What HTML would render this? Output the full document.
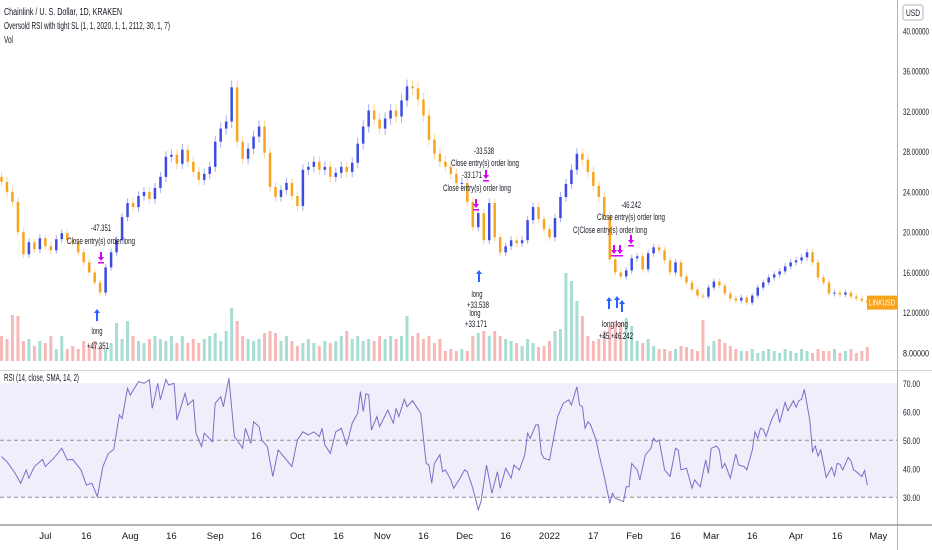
<!DOCTYPE html>
<html><head><meta charset="utf-8"><style>
html,body{margin:0;padding:0;background:#fff;}
svg{display:block;font-family:"Liberation Sans",sans-serif;}
</style></head><body>
<svg id="chart" width="932" height="550" viewBox="0 0 932 550">
  <rect x="0" y="0" width="932" height="550" fill="#ffffff"/>
  <g id="rsiBand"></g>
  <g id="vol"></g>
  <g id="candles"></g>
  <g id="rsiLine"></g>
  <g id="axes"></g>
  <g font-size="10" fill="#131722">
    <text x="4" y="15" textLength="118" lengthAdjust="spacingAndGlyphs">Chainlink / U. S. Dollar, 1D, KRAKEN</text>
    <text x="4" y="29" textLength="166" lengthAdjust="spacingAndGlyphs">Oversold RSI with tight SL (1, 1, 2020, 1, 1, 2112, 30, 1, 7)</text>
    <text x="4" y="43" textLength="9" lengthAdjust="spacingAndGlyphs">Vol</text>
    <text x="4" y="381" textLength="75" lengthAdjust="spacingAndGlyphs">RSI (14, close, SMA, 14, 2)</text>
  </g>
  <g>
    <rect x="903" y="5" width="20" height="15" rx="2" fill="#fff" stroke="#b2b5be"/>
    <text x="913" y="16" font-size="9" fill="#131722" text-anchor="middle" textLength="14" lengthAdjust="spacingAndGlyphs">USD</text>
  </g>
  <g id="annot" font-size="9" fill="#131722"></g>
</svg>
<script>
// ---- data ----
const closes = [25.0,24.0,23.0,20.0,17.8,19.0,18.3,19.4,18.6,18.2,19.3,19.9,19.2,19.0,18.0,17.0,16.0,15.0,14.0,16.5,
18.0,19.2,21.5,22.9,22.5,23.6,24.0,23.3,24.4,25.5,27.5,27.7,26.8,28.2,27.0,26.0,25.2,25.8,26.5,29.0,
30.3,31.0,34.4,29.0,27.3,28.3,29.5,30.5,27.9,24.5,23.5,24.2,24.9,23.6,22.6,26.2,26.5,27.0,26.2,26.5,
25.5,25.9,26.5,26.0,26.9,28.8,30.5,32.1,31.2,30.3,31.3,32.1,31.5,33.1,34.5,34.3,33.2,31.6,29.2,27.8,
27.0,26.5,25.8,24.9,24.9,23.0,20.5,21.9,19.2,22.9,19.5,18.0,18.6,19.2,18.9,19.2,21.2,22.5,21.3,20.3,
19.5,21.4,23.5,24.8,26.2,27.8,27.2,26.0,24.6,23.5,21.6,17.3,16.0,15.6,16.2,17.4,17.6,16.3,17.9,18.5,
18.2,17.2,16.0,17.0,15.6,15.0,14.3,13.7,13.6,14.5,15.1,14.7,13.9,13.4,13.2,13.5,13.0,13.7,14.5,15.0,
15.5,15.8,16.1,16.6,17.0,17.2,17.5,18.0,17.0,15.5,15.0,13.9,14.0,13.8,14.0,13.6,13.4,13.2,13.0];
const firstOpen = 25.5;
const volumes = [25,22,46,45,20,22,15,20,18,25,12,25,12,15,12,20,15,20,15,12,18,38,22,40,25,20,18,22,25,22,20,
25,18,25,18,22,18,22,25,28,20,30,53,40,25,22,20,22,28,30,28,20,25,20,15,18,22,18,15,20,18,20,25,30,22,25,
20,22,20,25,22,25,22,25,45,25,28,22,25,18,22,10,12,10,12,10,25,28,30,25,30,25,22,20,18,15,22,18,14,15,20,
30,32,88,80,60,45,25,20,22,30,35,40,38,43,35,20,18,22,15,12,12,10,12,15,14,12,10,41,15,20,22,18,15,12,10,
10,12,8,10,12,10,8,12,10,8,12,10,8,12,10,10,12,8,10,12,8,10,14];
const rsiDay = [0,2,5,7,9,10,12,15,16,19,22,24,26,29,31,33,35,37,39,41,43,44,46,47,50,52,54,55,56,57,58,60,61,63,64,67,68,70,71,73,74,77,78,80,81,83,85,86,88,89,91,92,94,95,97,99,101,103,106,108,
110,112,114,116,117,118,120,122,124,126,128,130,131,132,133,134,135,137,138,141,143,144,145,147,148,150,153,155,156,157,158,160,161,162,164,165,167,169,170,172,174,175,177,179,181,182,184,186,187,189,191,192,193,195,196,197,198,200,203,205,207,208,210,211,212,213,214,215,
217,218,220,222,223,224,227,228,229,230,232,233,235,237,238,239,240,242,244,246,247,248,250,252,253,255,257,258,259,261,262,263,264,266,268,269,271,272,274,275,276,277,278,279,281,283,284,286,287,289,290,291,292,293,295,296,297,298,299,301,303,304,305,306,307,309,310,311,312,314,315,316];
const rsiVal = [44.3,42.5,38.4,34.9,39.6,36.7,40.8,43.3,40.8,43.7,47.2,43.1,43.3,39.6,34.3,34.9,30.2,40.8,45.4,46.8,58.9,57.7,68.2,65.9,70.6,70,71.2,61.2,65.3,70,64.2,71.4,69.4,70,57.1,66.5,62.4,64.2,52.5,47.8,52.5,49.5,63,65.3,61.8,71.8,51.3,50.1,47.2,54.2,48.9,56.5,54.8,50.1,47.8,37.3,46.6,44.3,40.8,50.1,
53,51.9,53,51.3,54.2,48.4,45.4,53,54.2,48.4,56,59.5,67.1,60.1,66.3,65.9,53.6,58.3,54.8,60.6,56,61.2,58.3,64.4,61.8,63.9,59.5,41.9,41.3,34.9,41.9,44.9,39,39.6,36.1,33.2,36.1,39.6,39,33.2,25.6,28.5,41.3,31.4,39,33.2,40.2,36.7,41.3,39.6,44.9,52.5,50.7,55.4,55.4,45.4,43.7,43.1,58.3,63,64.2,62.4,68.8,62.4,61.8,54.2,56.5,55.4,
50.1,45.4,37.3,27.9,31.4,29.6,28.5,33.7,33.7,41.9,39.6,36.1,44.9,47.2,50.7,49.5,50.1,39.6,37.3,47.2,46.6,39.6,40.2,33.2,36.1,33.7,43.1,38.4,47.2,48,46.6,40.2,41.9,36.7,45.2,41.3,40.8,39.6,46.6,53,50.7,54.2,53.9,51.3,57.1,60.9,56.2,63.3,60.4,63.9,61.6,63.9,64.4,67.9,57.1,46,48,44.5,46.6,37,40.5,37.5,41.9,41.6,39.6,44,42.8,39.6,39,37.3,39.4,34.3];
const priceTicks = [40,36,32,28,24,20,16,12,8];
const rsiTicks = [70,60,50,40,30];
const timeLabels = ["Jul","16","Aug","16","Sep","16","Oct","16","Nov","16","Dec","16","2022","17","Feb","16","Mar","16","Apr","16","May"];
const timeDays = [16,31,47,62,78,93,108,123,139,154,169,184,200,216,231,246,259,274,290,305,320];

// ---- scales ----
const NS="http://www.w3.org/2000/svg";
const xOf = d => d*2.74 + 1.5;
const yP = p => 31 + (40-p)*10.06;
const yR = r => 383.3 + (70-r)*2.85;
const volBase = 361;
function mk(tag, attrs, parent){const e=document.createElementNS(NS,tag);for(const k in attrs)e.setAttribute(k,attrs[k]);parent.appendChild(e);return e;}

// RSI band
const band=document.getElementById('rsiBand');
const bandRect = mk('rect',{x:0,y:yR(70),width:897,height:yR(30)-yR(70),fill:'#f1eefb'},band);


[50,30].forEach(v=>{
  const l=mk('line',{x1:0,x2:897,y1:yR(v),y2:yR(v),stroke:'#8a8d96','stroke-dasharray':'4 3','stroke-width':1},band);
  
  
});

// candles + volume
const cg=document.getElementById('candles'), vg=document.getElementById('vol');
closes.forEach((c,k)=>{
  const o = k===0?firstOpen:closes[k-1];
  const up = c>=o;
  const x = xOf(2*k);
  const col = up?'#3d4be0':'#f7a51e';
  const hi = Math.max(o,c)*1.02, lo = Math.min(o,c)*0.98;
  const w=mk('line',{x1:x,x2:x,y1:yP(hi),y2:yP(lo),stroke:col,'stroke-opacity':0.45,'stroke-width':1},cg);
  
  
  const yt=Math.min(yP(o),yP(c)), h=Math.max(1,Math.abs(yP(o)-yP(c)));
  const b=mk('rect',{x:x-1.25,y:yt,width:2.5,height:h,fill:col},cg);
  
  
  const v=volumes[k];
  const vb=mk('rect',{x:x-1.5,y:volBase-v,width:3,height:v,fill:up?'#a8ddd3':'#f6b9b7'},vg);
  
  
});

// RSI line
const rl=document.getElementById('rsiLine');
const pts=rsiDay.map((d,i)=>xOf(d).toFixed(1)+','+yR(rsiVal[i]).toFixed(1)).join(' ');
const pl=mk('polyline',{points:pts,fill:'none',stroke:'#7b6fc8','stroke-width':1},rl);



// axes
const ax=document.getElementById('axes');
const a1=mk('line',{x1:897.5,x2:897.5,y1:0,y2:550,stroke:'#b2b5be'},ax);


const a2=mk('line',{x1:0,x2:932,y1:370.5,y2:370.5,stroke:'#d1d4dc'},ax);


const a3=mk('line',{x1:0,x2:932,y1:525,y2:525,stroke:'#9598a1','stroke-width':1.5},ax);


priceTicks.forEach(p=>{
  const t=mk('text',{x:903,y:yP(p)+3.5,'font-size':9,fill:'#131722',textLength:26,lengthAdjust:'spacingAndGlyphs'},ax);
  t.textContent=p.toFixed(5);
  
  
});
rsiTicks.forEach(r=>{
  const t=mk('text',{x:903,y:yR(r)+3.5,'font-size':9,fill:'#131722',textLength:17,lengthAdjust:'spacingAndGlyphs'},ax);
  t.textContent=r.toFixed(2);
  
  
});
timeLabels.forEach((s,i)=>{
  const t=mk('text',{x:xOf(timeDays[i]),y:539,'font-size':9.5,fill:'#131722','text-anchor':'middle'},ax);
  t.textContent=s;
  
  
});
// last price tag
const lastC=closes[closes.length-1];
const tag=mk('rect',{x:867,y:yP(lastC)-7,width:30,height:14,fill:'#f7a21b'},ax);


const tt=mk('text',{x:882,y:yP(lastC)+3,'font-size':8,fill:'#fff','text-anchor':'middle',textLength:26,lengthAdjust:'spacingAndGlyphs'},ax);
tt.textContent='LINKUSD';



// annotations
const an=document.getElementById('annot');
function label(x,y,s,len){const t=mk('text',{x:x,y:y,'text-anchor':'middle',textLength:len,lengthAdjust:'spacingAndGlyphs'},an);t.textContent=s;
  
  }
function upArrow(x,y){const p=mk('path',{d:`M${x} ${y}l-3 4h2v8h2v-8h2z`,fill:'#2962ff'},an);
  
  }
function downArrow(x,y){const p=mk('path',{d:`M${x} ${y+9}l-3 -4h2v-5h2v5h2z M${x-3} ${y+10}h6v1.5h-6z`,fill:'#d500f9'},an);
  
  }
label(101,231,'-47.351',20); label(101,244,'Close entry(s) order long',68);
downArrow(101,252);
upArrow(97,309); label(97,334,'long',11); label(98,349,'+47.351',22);
label(484,154,'-33.538',20); label(485,166,'Close entry(s) order long',68);
label(472,178,'-33.171',20); label(477,191,'Close entry(s) order long',68);
downArrow(476,199); downArrow(486,170);
upArrow(479,270); label(477,297,'long',11); label(478,308,'+33.538',22); label(475,316,'long',11); label(476,327,'+33.171',22);
label(631,208,'-46.242',20); label(631,220,'Close entry(s) order long',68); label(610,233,'C(Close entry(s) order long',74);
downArrow(614,245); downArrow(620,245); downArrow(631,235);
upArrow(609,297); upArrow(617,296); upArrow(622,300);
label(615,327,'long long',26); label(616,339,'+45.+46.242',34);
</script>
</body></html>
